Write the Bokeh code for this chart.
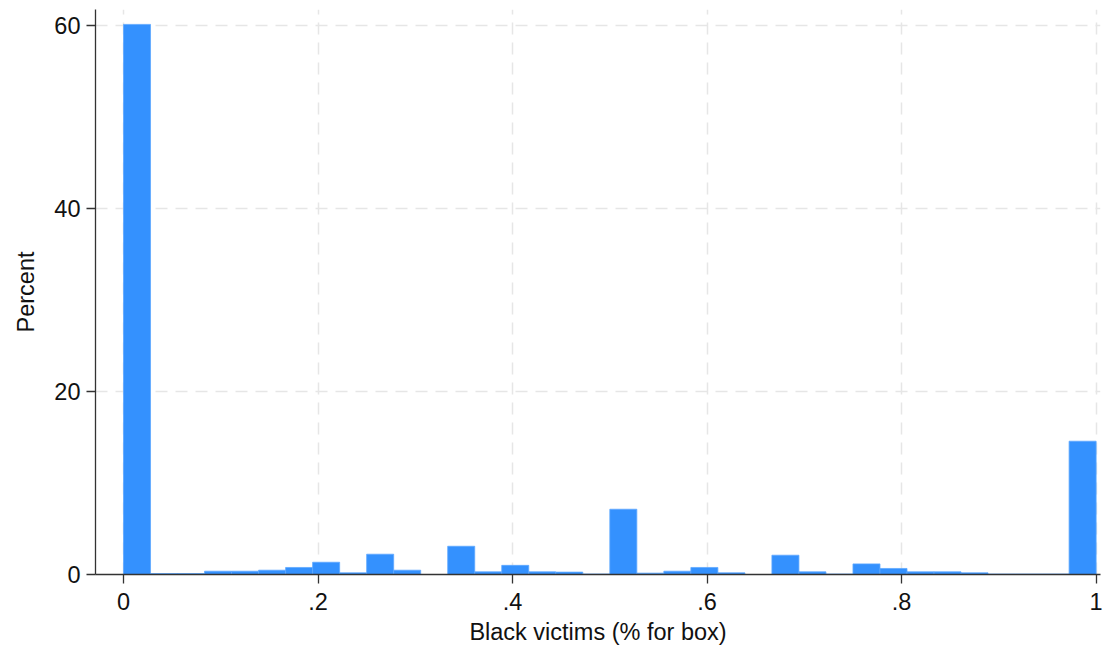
import numpy as np
from bokeh.plotting import figure
from bokeh.models import Range1d, FixedTicker, CustomJSTickFormatter, ColumnDataSource
from bokeh.embed import file_html
from bokeh.resources import INLINE

# Histogram: 36 bins on [0, 1], values in percent
bin_count = 36
bin_lo = 0.0
bin_hi = 1.0
percent = [60.17, 0.10, 0.10, 0.36, 0.36, 0.47, 0.77, 1.34, 0.18, 2.22,
           0.47, 0.00, 3.09, 0.29, 1.00, 0.29, 0.26, 0.05, 7.14, 0.15,
           0.36, 0.77, 0.18, 0.00, 2.11, 0.29, 0.05, 1.16, 0.66, 0.29,
           0.29, 0.18, 0.05, 0.05, 0.05, 14.58]
x_ticks = [0, 0.2, 0.4, 0.6, 0.8, 1.0]
y_ticks = [0, 20, 40, 60]
x_title = "Black victims (% for box)"
y_title = "Percent"

edges = np.linspace(bin_lo, bin_hi, bin_count + 1)
src = ColumnDataSource(dict(left=edges[:-1], right=edges[1:], top=percent,
                            bottom=[0] * bin_count))

FONT = "Liberation Sans"
FS = "23.5px"

p = figure(width=1106, height=652, output_backend="svg", toolbar_location=None,
           x_range=Range1d(-0.0288, 1.0045), y_range=Range1d(0, 61.8),
           min_border_left=95, min_border_right=6, min_border_top=9,
           min_border_bottom=78)
p.outline_line_color = None
p.background_fill_color = "white"
p.border_fill_color = "white"

p.quad(left="left", right="right", top="top", bottom="bottom", source=src,
       fill_color="#3491fe", line_color="#5ea8ff", line_width=0.8)

for ax, ticks in ((p.xaxis[0], x_ticks), (p.yaxis[0], y_ticks)):
    ax.ticker = FixedTicker(ticks=ticks)
    ax.minor_tick_line_color = None
    ax.major_tick_in = 0
    ax.major_tick_out = 9
    ax.axis_line_color = "#333333"
    ax.axis_line_width = 1.3
    ax.major_tick_line_color = "#333333"
    ax.major_tick_line_width = 1.3
    ax.major_label_text_font = FONT
    ax.major_label_text_font_size = FS
    ax.major_label_text_color = "#111111"
    ax.axis_label_text_font = FONT
    ax.axis_label_text_font_size = FS
    ax.axis_label_text_font_style = "normal"
    ax.axis_label_text_color = "#111111"

p.xaxis[0].formatter = CustomJSTickFormatter(code="""
    if (Math.abs(tick) < 1e-9) return '0';
    if (Math.abs(tick - 1) < 1e-9) return '1';
    return tick.toFixed(1).replace(/^0/, '');
""")
p.yaxis[0].major_label_orientation = "horizontal"
p.xaxis[0].major_label_standoff = 9
p.yaxis[0].major_label_standoff = 6
p.xaxis[0].axis_label = x_title
p.yaxis[0].axis_label = y_title
p.xaxis[0].axis_label_standoff = 6
p.yaxis[0].axis_label_standoff = 12

p.xgrid[0].ticker = FixedTicker(ticks=x_ticks)
p.ygrid[0].ticker = FixedTicker(ticks=y_ticks)
for g in (p.xgrid[0], p.ygrid[0]):
    g.grid_line_color = "#e6e6e6"
    g.grid_line_width = 1.5
    g.grid_line_dash = "12 8"

open("out.html", "w").write(file_html(p, INLINE))
